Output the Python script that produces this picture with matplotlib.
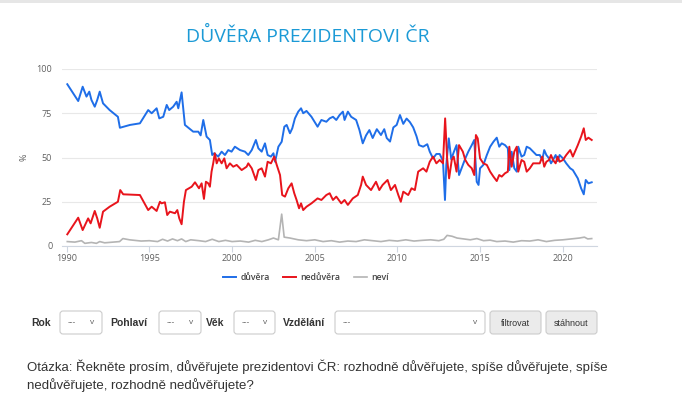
import matplotlib
matplotlib.use("Agg")
import matplotlib.pyplot as plt
from matplotlib.patches import FancyBboxPatch, Rectangle

# ---------------- data ----------------
blue_years = [1990.04, 1990.7, 1990.97, 1991.2, 1991.37, 1991.5, 1991.7, 1991.85, 1992.0, 1992.2,
              1992.6, 1993.1, 1993.22, 1993.83, 1994.43, 1994.93, 1995.14, 1995.44, 1995.6, 1995.84,
              1996.05, 1996.2, 1996.44, 1996.65, 1996.75, 1996.95, 1997.15, 1997.65, 1997.96, 1998.1,
              1998.26, 1998.46, 1998.66, 1998.8, 1998.92, 1999.16, 1999.37, 1999.57, 1999.77, 1999.97,
              2000.17, 2000.48, 2000.78, 2000.98, 2001.19, 2001.44, 2001.59, 2001.79, 2001.99, 2002.15,
              2002.35, 2002.5, 2002.6, 2002.8, 2003.0, 2003.16, 2003.3, 2003.5, 2003.64, 2003.8,
              2004.0, 2004.17, 2004.3, 2004.5, 2004.8, 2005.17, 2005.4, 2005.7, 2005.9, 2006.1,
              2006.3, 2006.5, 2006.7, 2006.8, 2007.0, 2007.2, 2007.5, 2007.7, 2007.9, 2008.1,
              2008.3, 2008.5, 2008.75, 2009.0, 2009.2, 2009.35, 2009.55, 2009.75, 2009.95, 2010.15,
              2010.35, 2010.55, 2010.75, 2010.95, 2011.15, 2011.3, 2011.55, 2011.8, 2011.95, 2012.15,
              2012.35, 2012.55, 2012.75, 2012.87, 2012.95, 2013.1, 2013.25, 2013.4, 2013.57, 2013.72,
              2013.95, 2014.1, 2014.28, 2014.49, 2014.64, 2014.79, 2014.9, 2014.99, 2015.19, 2015.4,
              2015.6, 2015.8, 2016.0, 2016.15, 2016.3, 2016.5, 2016.67, 2016.76, 2016.9, 2017.06,
              2017.21, 2017.3, 2017.5, 2017.66, 2017.81, 2018.0, 2018.2, 2018.4, 2018.6, 2018.75,
              2018.87, 2019.0, 2019.16, 2019.28, 2019.4, 2019.56, 2019.68, 2019.8, 2020.0, 2020.2,
              2020.44, 2020.6, 2020.9, 2021.1, 2021.26, 2021.38, 2021.54, 2021.74]
duvera = [91.4, 81.9, 90.0, 84.4, 87.2, 82.5, 78.7, 82.5, 87.2, 80.6,
          76.8, 73.0, 66.8, 68.4, 69.3, 76.8, 75.0, 77.8, 72.1, 73.0,
          79.7, 76.8, 78.7, 81.5, 77.8, 86.8, 68.4, 64.6, 64.6, 62.5,
          71.2, 61.8, 59.9, 51.4, 52.4, 50.5, 53.3, 51.4, 54.2, 53.3,
          56.1, 54.2, 53.3, 51.4, 54.2, 59.9, 55.2, 53.3, 58.0, 51.4,
          50.5, 52.4, 47.6, 56.1, 58.9, 67.4, 68.4, 63.7, 66.5, 72.1,
          75.9, 77.8, 75.0, 76.3, 73.0, 67.4, 71.2, 70.2, 72.1, 73.0,
          71.2, 74.0, 75.9, 71.2, 75.9, 73.0, 71.2, 65.5, 58.0, 62.5,
          65.5, 61.0, 66.0, 62.7, 66.0, 61.0, 59.0, 67.0, 68.4, 74.0,
          69.0, 72.0, 70.0, 67.0, 62.0, 57.0, 56.1, 57.5, 53.3, 49.5,
          52.0, 52.0, 48.0, 26.0, 45.8, 60.8, 49.0, 53.0, 57.0, 40.1,
          45.8, 49.5, 53.3, 57.0, 59.9, 36.3, 34.5, 43.9, 45.8, 51.4,
          56.1, 58.9, 61.2, 56.1, 58.0, 57.0, 55.2, 42.9, 53.3, 43.9,
          42.0, 56.1, 50.5, 51.4, 56.1, 55.2, 53.3, 51.4, 51.4, 48.6,
          54.2, 51.4, 49.5, 46.7, 48.6, 51.4, 48.0, 51.4, 49.5, 46.7,
          43.9, 42.9, 38.2, 32.6, 29.2, 37.3, 35.4, 36.0]

red_years = [1990.04, 1990.7, 1990.97, 1991.3, 1991.45, 1991.7, 1991.85, 1992.0, 1992.2, 1992.6,
             1993.1, 1993.24, 1993.42, 1994.43, 1994.93, 1995.14, 1995.44, 1995.64, 1995.74, 1995.94,
             1996.08, 1996.24, 1996.55, 1996.69, 1996.81, 1996.95, 1997.09, 1997.21, 1997.56, 1997.76,
             1998.0, 1998.16, 1998.3, 1998.42, 1998.56, 1998.66, 1998.76, 1998.86, 1998.96, 1999.07,
             1999.2, 1999.37, 1999.53, 1999.67, 1999.87, 2000.07, 2000.28, 2000.58, 2000.88, 2000.98,
             2001.19, 2001.44, 2001.59, 2001.79, 2001.99, 2002.15, 2002.35, 2002.55, 2002.7, 2002.9,
             2003.03, 2003.2, 2003.4, 2003.6, 2003.76, 2003.9, 2004.05, 2004.17, 2004.3, 2004.5,
             2004.8, 2005.17, 2005.4, 2005.7, 2005.9, 2006.1, 2006.3, 2006.6, 2006.8, 2007.0,
             2007.3, 2007.6, 2007.8, 2007.9, 2008.1, 2008.4, 2008.7, 2008.9, 2009.1, 2009.4,
             2009.6, 2009.85, 2010.05, 2010.2, 2010.35, 2010.65, 2010.85, 2011.05, 2011.25, 2011.55,
             2011.75, 2011.95, 2012.15, 2012.35, 2012.55, 2012.75, 2012.88, 2013.0, 2013.12, 2013.28,
             2013.4, 2013.57, 2013.72, 2013.95, 2014.1, 2014.28, 2014.49, 2014.64, 2014.74, 2014.85,
             2014.99, 2015.19, 2015.4, 2015.6, 2015.8, 2016.0, 2016.15, 2016.3, 2016.5, 2016.67,
             2016.76, 2016.9, 2017.06, 2017.21, 2017.3, 2017.5, 2017.66, 2017.81, 2018.0, 2018.2,
             2018.4, 2018.6, 2018.75, 2018.87, 2019.0, 2019.16, 2019.28, 2019.4, 2019.56, 2019.68,
             2019.8, 2020.0, 2020.2, 2020.44, 2020.6, 2020.9, 2021.1, 2021.26, 2021.38, 2021.54,
             2021.74]
neduvera = [6.6, 16.0, 9.0, 15.6, 12.8, 19.8, 15.6, 10.3, 19.4, 22.2,
            25.0, 31.6, 29.2, 28.8, 20.3, 22.2, 19.8, 25.0, 24.1, 24.7,
            17.5, 19.4, 18.5, 20.3, 15.6, 12.3, 25.0, 31.6, 33.5, 36.0,
            32.6, 35.4, 26.6, 36.3, 35.4, 33.5, 42.0, 46.7, 52.4, 46.7,
            49.5, 46.7, 49.5, 43.9, 46.7, 44.8, 45.8, 42.9, 44.8, 46.7,
            43.9, 37.3, 42.9, 43.9, 39.2, 47.6, 46.7, 50.5, 45.8, 40.1,
            28.8, 27.9, 32.6, 35.4, 29.8, 26.0, 21.3, 24.1, 20.3, 22.2,
            24.1, 26.9, 26.0, 28.8, 29.8, 26.0, 27.9, 24.1, 26.0, 23.2,
            26.9, 28.8, 34.5, 39.2, 34.5, 31.6, 36.3, 31.6, 34.5, 37.3,
            31.6, 34.5, 28.8, 25.0, 30.7, 28.8, 32.6, 31.6, 42.0, 43.9,
            42.0, 47.6, 50.5, 46.7, 48.6, 46.7, 72.1, 49.5, 38.2, 48.6,
            50.5, 42.0, 57.0, 53.3, 48.6, 45.8, 43.9, 40.1, 62.7, 60.8,
            49.5, 46.7, 45.8, 42.0, 39.2, 36.7, 40.1, 39.2, 41.1, 42.0,
            56.1, 44.8, 53.3, 56.1, 42.0, 48.6, 47.6, 42.0, 43.9, 46.7,
            46.7, 46.7, 50.5, 44.8, 47.6, 48.6, 51.4, 48.6, 46.7, 50.5,
            47.6, 48.6, 51.4, 54.2, 50.5, 57.0, 61.8, 66.5, 59.9, 61.2,
            59.9]

gray_years = [1990.04, 1990.5, 1990.9, 1991.1, 1991.5, 1991.8, 1992.0, 1992.3, 1993.2, 1993.4,
              1993.8, 1994.5, 1995.0, 1995.5, 1995.8, 1996.1, 1996.4, 1996.7, 1996.95, 1997.2,
              1997.5, 1998.0, 1998.4, 1998.8, 1999.2, 1999.6, 2000.0, 2000.5, 2001.0, 2001.4,
              2001.8, 2002.2, 2002.5, 2002.8, 2003.0, 2003.15, 2003.5, 2004.0, 2004.5, 2005.0,
              2005.5, 2006.0, 2006.5, 2007.0, 2007.5, 2008.0, 2008.5, 2009.0, 2009.5, 2010.0,
              2010.5, 2011.0, 2011.5, 2012.0, 2012.5, 2012.8, 2013.0, 2013.3, 2013.6, 2014.0,
              2014.4, 2014.8, 2015.2, 2015.6, 2016.0, 2016.5, 2017.0, 2017.5, 2018.0, 2018.5,
              2019.0, 2019.5, 2020.0, 2020.5, 2021.0, 2021.3, 2021.5, 2021.74]
nevi = [2.5, 2.2, 3.0, 1.5, 2.0, 1.5, 2.5, 1.8, 2.5, 4.2,
        3.5, 2.8, 3.0, 2.5, 3.8, 2.8, 4.0, 3.0, 4.0, 2.5,
        3.5, 3.0, 2.5, 3.8, 2.5, 3.2, 2.5, 2.8, 2.2, 3.2,
        2.5, 3.5, 4.5, 3.5, 18.0, 5.0, 4.5, 3.5, 3.0, 3.5,
        2.5, 3.0, 2.2, 2.8, 2.5, 3.5, 3.0, 2.5, 3.2, 2.8,
        3.5, 2.8, 3.2, 3.5, 3.0, 3.8, 6.0, 5.5, 4.5, 4.0,
        3.5, 4.2, 3.0, 3.3, 2.5, 2.8, 2.2, 3.0, 2.8, 3.5,
        2.5, 3.2, 3.5, 4.0, 4.5, 5.0, 4.0, 4.2]

series_labels = ["důvěra", "nedůvěra", "neví"]
x_ticks = [1990, 1995, 2000, 2005, 2010, 2015, 2020]
y_ticks = [0, 25, 50, 75, 100]
title_text = "DŮVĚRA PREZIDENTOVI ČR"
question_lines = ["Otázka: Řekněte prosím, důvěřujete prezidentovi ČR: rozhodně důvěřujete, spíše důvěřujete, spíše",
                  "nedůvěřujete, rozhodně nedůvěřujete?"]

# ---------------- figure ----------------
W, H = 682, 412
fig = plt.figure(figsize=(W / 100, H / 100), dpi=100)
fig.patch.set_facecolor("white")

def fx(px):
    return px / W

def fy(py):
    return 1 - py / H

BLUE = "#1f6ee8"
RED = "#e8141c"
GRAY = "#b4b4b4"

ax = fig.add_axes([fx(62), fy(246), fx(597) - fx(62), fy(69) - fy(246)])
ax.plot(blue_years, duvera, color=BLUE, lw=1.4, label=series_labels[0], solid_joinstyle="round")
ax.plot(red_years, neduvera, color=RED, lw=1.4, label=series_labels[1], solid_joinstyle="round")
ax.plot(gray_years, nevi, color=GRAY, lw=1.2, label=series_labels[2], solid_joinstyle="round")

ax.set_xlim(1989.72, 2022.06)
ax.set_ylim(0, 100)
ax.set_xticks(x_ticks)
ax.set_yticks(y_ticks)
ax.set_xticklabels([str(t) for t in x_ticks], fontsize=6.5, color="#606060", family="Open Sans")
ax.set_yticklabels([str(t) for t in y_ticks], fontsize=6.5, color="#606060", family="Open Sans")
ax.grid(axis="y", color="#e8e8e8", lw=0.8)
ax.set_axisbelow(True)
for s in ["top", "right", "left"]:
    ax.spines[s].set_visible(False)
ax.spines["bottom"].set_color("#cfd6e0")
ax.spines["bottom"].set_linewidth(0.8)
ax.tick_params(axis="y", length=0, pad=7)
ax.tick_params(axis="x", length=4, color="#cfd6e0", pad=2)
ax.set_ylabel("%", fontsize=6.5, color="#606060", family="Open Sans", labelpad=6)

leg = fig.legend(loc="center", bbox_to_anchor=(fx(306), fy(278)), ncol=3, frameon=False,
                 handlelength=1.5, columnspacing=1.5, handletextpad=0.5,
                 prop={"family": "Open Sans", "size": 6.3, "weight": "semibold"})
for t in leg.get_texts():
    t.set_color("#444444")

fig.text(fx(308), fy(36), title_text, ha="center", va="center", fontsize=14,
         color="#1b9ad6", family="Open Sans")

# overlay for page elements in pixel coords
ov = fig.add_axes([0, 0, 1, 1], facecolor="none")
ov.set_xlim(0, W)
ov.set_ylim(H, 0)
ov.axis("off")
ov.add_patch(Rectangle((0, 0), W, 2.5, color="#e6e6e6", lw=0))

label_kw = dict(fontsize=7.5, fontweight="bold", color="#333333", family="Liberation Sans", va="center")
ov.text(31, 323, "Rok", **label_kw)
ov.text(110, 323, "Pohlaví", **label_kw)
ov.text(206, 323, "Věk", **label_kw)
ov.text(283, 323, "Vzdělání", **label_kw)

for x0, x1 in [(60, 102), (159, 201), (234, 275), (335, 485)]:
    ov.add_patch(FancyBboxPatch((x0, 311), x1 - x0, 23, boxstyle="round,pad=0,rounding_size=3",
                                fc="white", ec="#cccccc", lw=0.8))
    ov.text(x0 + 8, 323, "---", fontsize=6, color="#555555", family="Liberation Sans", va="center")
    ov.text(x1 - 10, 322, "v", fontsize=6, color="#666666", family="Liberation Sans", va="center", ha="center")

for x0, x1, txt in [(490, 541, "filtrovat"), (546, 597, "stáhnout")]:
    ov.add_patch(FancyBboxPatch((x0, 311), x1 - x0, 23, boxstyle="round,pad=0,rounding_size=3",
                                fc="#ebebeb", ec="#cccccc", lw=0.8))
    ov.text((x0 + x1) / 2, 323, txt, fontsize=6.5, color="#333333", family="Liberation Sans",
            va="center", ha="center")

ov.text(27, 367, question_lines[0], fontsize=9.5, color="#333333", family="Liberation Sans", va="center")
ov.text(27, 385, question_lines[1], fontsize=9.5, color="#333333", family="Liberation Sans", va="center")

fig.savefig("out.png", dpi=100)
